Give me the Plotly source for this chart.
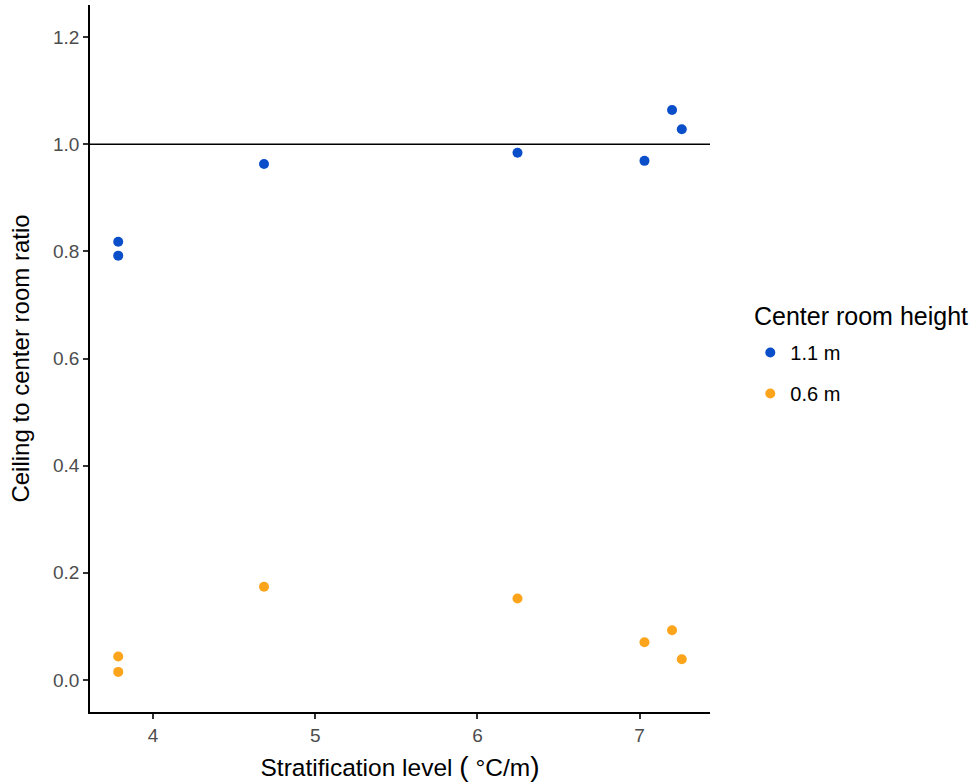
import plotly.graph_objects as go

# Stratification level (°C/m) for each measurement
strat_level = [3.785, 3.785, 4.684, 6.247, 7.030, 7.200, 7.260]

# Ceiling-to-center-room ratio for each center room height
ratio_11m = [0.818, 0.792, 0.963, 0.984, 0.969, 1.064, 1.028]
ratio_06m = [0.0436, 0.0149, 0.174, 0.152, 0.0702, 0.0926, 0.0386]

series_names = ["1.1 m", "0.6 m"]
series_colors = ["#0A4FC9", "#FCA51C"]

x_ticks = [4, 5, 6, 7]
y_ticks = [0.0, 0.2, 0.4, 0.6, 0.8, 1.0, 1.2]
reference_ratio = 1.0

font_family = "Liberation Sans, Arial, Helvetica, sans-serif"

fig = go.Figure()
for name, vals, col in zip(series_names, [ratio_11m, ratio_06m], series_colors):
    fig.add_trace(go.Scatter(
        x=strat_level, y=vals, mode="markers", name=name,
        legendgroup=name,
        marker=dict(color=col, size=10, line=dict(width=0)),
    ))

fig.add_hline(y=reference_ratio, line=dict(color="black", width=1.6), layer="below")

axis_common = dict(
    showline=True, linecolor="black", linewidth=1.8,
    ticks="outside", ticklen=5, tickwidth=1.6, tickcolor="#333333",
    showgrid=False, zeroline=False,
    tickfont=dict(family=font_family, size=19, color="#4d4d4d"),
    mirror=False,
)

big_paren = "<span style='font-size:28px'>{}</span>"
x_title = ("Stratification level " + big_paren.format("(")
           + " °C/m" + big_paren.format(")"))

# legend heading drawn as a separate label so the key spacing can be set freely
fig.add_annotation(
    text="Center room height", xref="paper", yref="paper",
    x=1.0677, y=0.5601, xanchor="left", yanchor="middle",
    showarrow=False, font=dict(size=25, color="black", family=font_family),
)

fig.update_layout(
    width=977, height=784,
    plot_bgcolor="white", paper_bgcolor="white",
    margin=dict(l=90, r=267, t=5, b=72),
    font=dict(family=font_family, color="black"),
    xaxis=dict(
        range=[3.611, 7.434], tickvals=x_ticks,
        title=dict(text=x_title, font=dict(size=24.5, color="black"), standoff=14),
        **axis_common,
    ),
    yaxis=dict(
        range=[-0.06, 1.26], tickvals=y_ticks,
        ticktext=[f"{v:.1f}" for v in y_ticks],
        title=dict(text="Ceiling to center room ratio",
                   font=dict(size=24, color="black"), standoff=16),
        **axis_common,
    ),
    legend=dict(
        font=dict(size=20, color="black"),
        x=1.065, xanchor="left", y=0.5361, yanchor="top",
        tracegroupgap=12, itemwidth=30,
        bgcolor="rgba(0,0,0,0)",
    ),
    showlegend=True,
)

fig.write_html("out.html")
